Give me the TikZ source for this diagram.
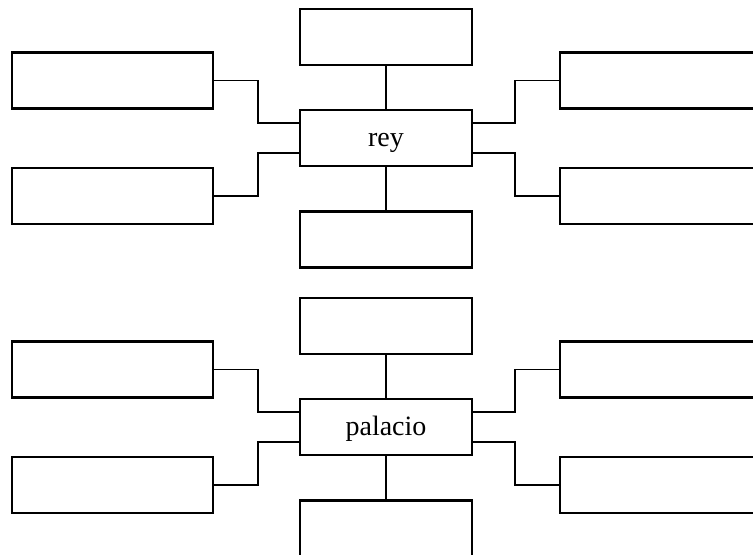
\documentclass[tikz,border=0pt]{standalone}
\usepackage{fontspec}
\setmainfont{Liberation Serif}
\usetikzlibrary{calc}

\begin{document}
\begin{tikzpicture}[x=0.75pt, y=-0.75pt,
    box/.style={rectangle, draw, line width=1.8pt, fill=white, inner sep=0pt,
        font=\fontsize{21}{25}\selectfont, text height=18pt, text depth=4.5pt},
    midbox/.style={box, minimum width=172*0.75pt, minimum height=56*0.75pt},
    sidebox/.style={box, minimum width=201*0.75pt, minimum height=56*0.75pt},
    link/.style={line width=1.4pt}]
    \useasboundingbox (0,0) rectangle (753,555);
    \clip (0,0) rectangle (753,555);

    % Define positions of the nodes round "rey"
    \node[midbox] (c1) at (386, 138) {rey};
    \node[midbox] (t1) at (386, 37) {};
    \node[midbox] (b1) at (386, 239.5) {};
    \node[sidebox] (l1a) at (112.5, 80.5) {};
    \node[sidebox] (l1b) at (112.5, 196) {};
    \node[sidebox] (r1a) at (660.5, 80.5) {};
    \node[sidebox] (r1b) at (660.5, 196) {};

    % Draw edges between the side boxes and the centre box
    \draw[link] (t1) -- (c1);
    \draw[link] (c1) -- (b1);
    \draw[link] (l1a.east) -- ++(44, 0) |- ($(c1.north west)!0.25!(c1.south west)$);
    \draw[link] (l1b.east) -- ++(44, 0) |- ($(c1.north west)!0.75!(c1.south west)$);
    \draw[link] (r1a.west) -- ++(-44, 0) |- ($(c1.north east)!0.25!(c1.south east)$);
    \draw[link] (r1b.west) -- ++(-44, 0) |- ($(c1.north east)!0.75!(c1.south east)$);

    % Define positions of the nodes round "palacio"
    \node[midbox] (c2) at (386, 427) {palacio};
    \node[midbox] (t2) at (386, 326) {};
    \node[midbox] (b2) at (386, 528.5) {};
    \node[sidebox] (l2a) at (112.5, 369.5) {};
    \node[sidebox] (l2b) at (112.5, 485) {};
    \node[sidebox] (r2a) at (660.5, 369.5) {};
    \node[sidebox] (r2b) at (660.5, 485) {};

    % Draw edges between the side boxes and the centre box
    \draw[link] (t2) -- (c2);
    \draw[link] (c2) -- (b2);
    \draw[link] (l2a.east) -- ++(44, 0) |- ($(c2.north west)!0.25!(c2.south west)$);
    \draw[link] (l2b.east) -- ++(44, 0) |- ($(c2.north west)!0.75!(c2.south west)$);
    \draw[link] (r2a.west) -- ++(-44, 0) |- ($(c2.north east)!0.25!(c2.south east)$);
    \draw[link] (r2b.west) -- ++(-44, 0) |- ($(c2.north east)!0.75!(c2.south east)$);
\end{tikzpicture}
\end{document}
